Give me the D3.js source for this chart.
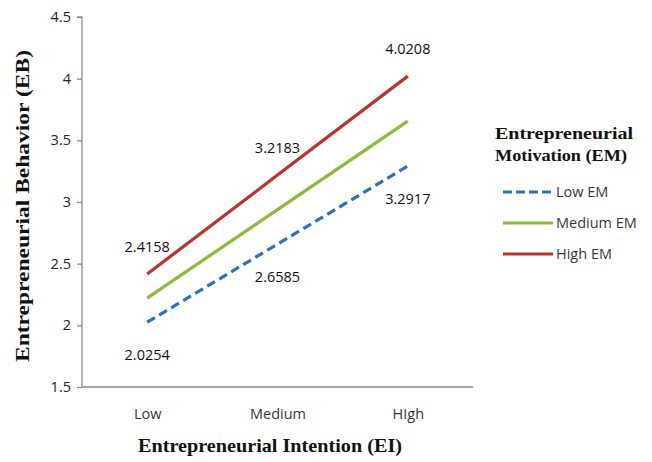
<!DOCTYPE html>
<html><head><meta charset="utf-8">
<script src="https://cdn.jsdelivr.net/npm/d3@7"></script>
<style>body{margin:0;background:#fff}svg{display:block}</style>
</head><body><svg id="c" width="652" height="462"></svg>
<script>
const categories = ["Low", "Medium", "HIgh"];
const seriesNames = ["Low EM", "Medium EM", "High EM"];
const lowEM = [2.0254, 2.6585, 3.2917];
const mediumEM = [2.2206, 2.9384, 3.6563];
const highEM = [2.4158, 3.2183, 4.0208];
const yTicks = [1.5, 2, 2.5, 3, 3.5, 4, 4.5];
// labelled points: [series index, category index, text, position]
const pointLabels = [
  [2, 0, "2.4158", "above"], [2, 1, "3.2183", "above"], [2, 2, "4.0208", "above"],
  [0, 0, "2.0254", "below"], [0, 1, "2.6585", "below"], [0, 2, "3.2917", "below"]
];

const series = [lowEM, mediumEM, highEM];
const colors = ["#2e6fc0", "#8cbb3c", "#c0302e"];
const dashes = ["9,5", null, null];

const svg = d3.select("#c");
const pL = 82, pR = 473, pT = 17, pB = 387;
const x = d3.scalePoint().domain(categories).range([pL, pR]).padding(0.5);
const y = d3.scaleLinear().domain([1.5, 4.5]).range([pB, pT]);

const numFont = "'Open Sans', 'Liberation Sans', sans-serif";
const titleFont = "'Liberation Serif', 'DejaVu Serif', serif";

// y axis
const ya = svg.append("g").attr("transform", `translate(${pL},0)`)
  .call(d3.axisLeft(y).tickValues(yTicks).tickFormat(d => String(d)).tickSize(5).tickPadding(6));
ya.selectAll("path,line").attr("stroke", "#8a8a8a").attr("stroke-width", 1.3);
ya.select(".domain").attr("d", `M-5,${pT}H0V${pB}`);
ya.selectAll("text").attr("font-family", numFont).attr("font-size", 14.5).attr("fill", "#222");

// x axis
const xa = svg.append("g").attr("transform", `translate(0,${pB})`)
  .call(d3.axisBottom(x).tickSize(0).tickPadding(22));
xa.select(".domain").attr("stroke", "#8a8a8a").attr("stroke-width", 1.3).attr("d", `M${pL},0H${pR}`);
xa.selectAll("text").attr("font-family", numFont).attr("font-size", 14.5).attr("fill", "#3a3340");

// lines
const line = d3.line().x((d, i) => x(categories[i])).y(d => y(d));
series.forEach((s, k) => {
  svg.append("path").datum(s).attr("d", line).attr("fill", "none")
    .attr("stroke", colors[k]).attr("stroke-width", 3.2)
    .attr("stroke-dasharray", dashes[k]);
});

// data labels
pointLabels.forEach(([si, ci, txt, pos]) => {
  const px = x(categories[ci]), py = y(series[si][ci]);
  svg.append("text").attr("x", px).attr("y", pos === "above" ? py - 22 : py + 38)
    .attr("text-anchor", "middle").attr("font-family", numFont).attr("font-size", 14.5)
    .attr("fill", "#111").text(txt);
});

// axis titles
svg.append("text").attr("transform", `translate(29,206) rotate(-90)`)
  .attr("text-anchor", "middle").attr("font-family", titleFont).attr("font-weight", "bold")
  .attr("font-size", 19).attr("fill", "#111")
  .attr("textLength", 312).attr("lengthAdjust", "spacingAndGlyphs")
  .text("Entrepreneurial Behavior (EB)");
svg.append("text").attr("x", 270).attr("y", 452)
  .attr("text-anchor", "middle").attr("font-family", titleFont).attr("font-weight", "bold")
  .attr("font-size", 19).attr("fill", "#111")
  .attr("textLength", 264).attr("lengthAdjust", "spacingAndGlyphs")
  .text("Entrepreneurial Intention (EI)");

// legend
const lg = svg.append("g");
lg.append("text").attr("x", 495).attr("y", 139).attr("font-family", titleFont)
  .attr("font-weight", "bold").attr("font-size", 17.5).attr("fill", "#111")
  .attr("textLength", 138).attr("lengthAdjust", "spacingAndGlyphs").text("Entrepreneurial");
lg.append("text").attr("x", 495).attr("y", 161).attr("font-family", titleFont)
  .attr("font-weight", "bold").attr("font-size", 17.5).attr("fill", "#111")
  .attr("textLength", 132).attr("lengthAdjust", "spacingAndGlyphs").text("Motivation (EM)");
seriesNames.forEach((n, k) => {
  const ly = 192 + k * 31;
  lg.append("line").attr("x1", 503).attr("x2", 553).attr("y1", ly).attr("y2", ly)
    .attr("stroke", colors[k]).attr("stroke-width", 3.2).attr("stroke-dasharray", dashes[k] ? "9,4" : null);
  lg.append("text").attr("x", 556).attr("y", ly + 5).attr("font-family", numFont)
    .attr("font-size", 14.5).attr("fill", "#3a3340").text(n);
});
</script></body></html>
